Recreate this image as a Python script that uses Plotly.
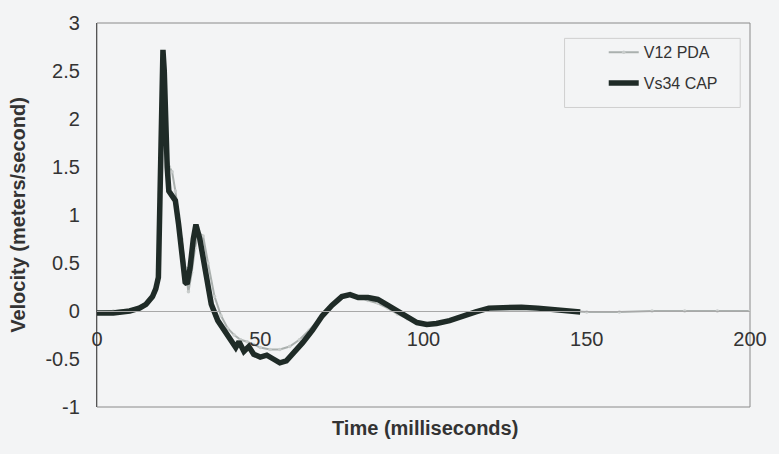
import plotly.graph_objects as go

# Vs34 CAP (dark, thick)
cap_t = [0, 5, 10, 13, 15, 17, 18, 18.8, 19.3, 19.8, 20.2, 20.6, 21.0, 21.5, 22.0, 23.0, 24.0,
         25.0, 26.0, 27.0, 27.6, 28.5, 29.5, 30.3, 31.5, 33, 35, 37, 39, 41, 42.5, 43.5, 45,
         46.5, 48, 50, 52, 54, 56, 58, 60, 63, 66, 69, 72, 75, 77.5, 80, 83, 86, 89, 92, 95,
         98, 101, 104, 108, 112, 116, 120, 125, 130, 135, 140, 144, 148]
cap_v = [-0.02, -0.02, 0.0, 0.03, 0.07, 0.15, 0.23, 0.35, 1.2, 2.2, 2.72, 2.5, 1.9, 1.5, 1.25, 1.2, 1.15,
         0.9, 0.6, 0.3, 0.28, 0.45, 0.75, 0.9, 0.75, 0.45, 0.07, -0.1, -0.2, -0.3, -0.38, -0.32, -0.42,
         -0.37, -0.45, -0.48, -0.46, -0.5, -0.54, -0.52, -0.45, -0.33, -0.2, -0.05, 0.06, 0.15, 0.17, 0.14, 0.14, 0.12, 0.06, 0.0, -0.07,
         -0.12, -0.14, -0.13, -0.1, -0.05, -0.01, 0.03, 0.04, 0.04, 0.03, 0.01, 0.0, -0.01]

# V12 PDA (light gray, thin)
pda_t = [0, 5, 10, 15, 17, 18, 18.8, 19.4, 19.9, 20.3, 20.8, 21.5, 22.2, 23, 24, 25, 26, 27, 28,
         29, 30, 31, 32.5, 34, 36, 38, 40, 42, 44, 46, 48, 50, 53, 56, 59, 62, 65, 68, 71, 74,
         77, 80, 83, 86, 89, 92, 95, 98, 101, 104, 108, 112, 116, 120, 125, 130, 135, 140, 145,
         150, 160, 170, 180, 190, 200]
pda_v = [-0.01, 0.0, 0.01, 0.08, 0.15, 0.23, 0.4, 1.3, 2.2, 2.35, 2.0, 1.6, 1.5, 1.45, 1.25, 1.0, 0.75, 0.45, 0.2,
         0.4, 0.65, 0.82, 0.78, 0.5, 0.15, -0.05, -0.18, -0.25, -0.3, -0.32, -0.35, -0.38, -0.4, -0.4, -0.37, -0.3, -0.2, -0.08, 0.03, 0.13,
         0.17, 0.15, 0.11, 0.08, 0.03, -0.03, -0.08, -0.12, -0.13, -0.12, -0.09, -0.05, -0.01, 0.02, 0.03, 0.03, 0.02, 0.01, 0.0,
         -0.01, -0.01, 0.0, 0.0, 0.0, 0.0]

y_ticks = [3, 2.5, 2, 1.5, 1, 0.5, 0, -0.5, -1]
y_ticktext = ["3", "2.5", "2", "1.5", "1", "0.5", "0", "-0.5", "-1"]
x_ticks = [0, 50, 100, 150, 200]
x_ticktext = ["0", "50", "100", "150", "200"]

BG = "#f3f4f5"
FONT = "Liberation Sans, Arial, sans-serif"

fig = go.Figure()
fig.add_trace(go.Scatter(
    x=pda_t, y=pda_v, name="V12 PDA", mode="lines+markers",
    line=dict(color="#aab0ae", width=2),
    marker=dict(color="#c8cccb", size=3.5),
    legendgroup="a",
))
fig.add_trace(go.Scatter(
    x=cap_t, y=cap_v, name="Vs34 CAP", mode="lines",
    line=dict(color="#1f2b27", width=5.5),
    legendgroup="b",
))

fig.update_layout(
    width=779, height=454,
    margin=dict(l=97, r=21, t=18, b=47),
    paper_bgcolor=BG, plot_bgcolor=BG,
    font=dict(family=FONT, color="#333333"),
    showlegend=True,
    legend=dict(
        x=0.776, y=0.968, xanchor="left", yanchor="top",
        bgcolor="rgba(0,0,0,0)", borderwidth=0,
        font=dict(size=16, color="#333333"),
        tracegroupgap=7, traceorder="grouped",
    ),
    xaxis=dict(
        range=[0, 200], tickvals=x_ticks, ticktext=x_ticktext,
        anchor="free", position=0.25,
        showline=True, linecolor="#a8a8a8", linewidth=1,
        showgrid=False, zeroline=False, ticks="",
        tickfont=dict(size=20, color="#333333"),
        ticklabelstandoff=10,
    ),
    yaxis=dict(
        range=[-1, 3], tickvals=y_ticks, ticktext=y_ticktext,
        showline=True, linecolor="#555555", linewidth=1.2,
        showgrid=False, zeroline=False, ticks="",
        tickfont=dict(size=20, color="#333333"),
        ticklabelstandoff=12,
        title=dict(text="<b>Velocity (meters/second)</b>", font=dict(size=20, color="#333333"), standoff=14),
    ),
    annotations=[dict(
        text="<b>Time (milliseconds)</b>", xref="paper", yref="paper",
        x=0.502, y=-0.02, xanchor="center", yanchor="top", showarrow=False,
        font=dict(size=20, color="#333333"),
    )],
    shapes=[
        dict(type="rect", xref="x domain", yref="y domain", x0=0, x1=1, y0=0, y1=1,
             line=dict(color="#8a8a8a", width=1), layer="below"),
        dict(type="rect", xref="x domain", yref="y domain", x0=0.716, x1=0.985, y0=0.78, y1=0.96,
             line=dict(color="#cfcfcf", width=1), layer="below"),
    ],
)

fig.write_html("out.html")
